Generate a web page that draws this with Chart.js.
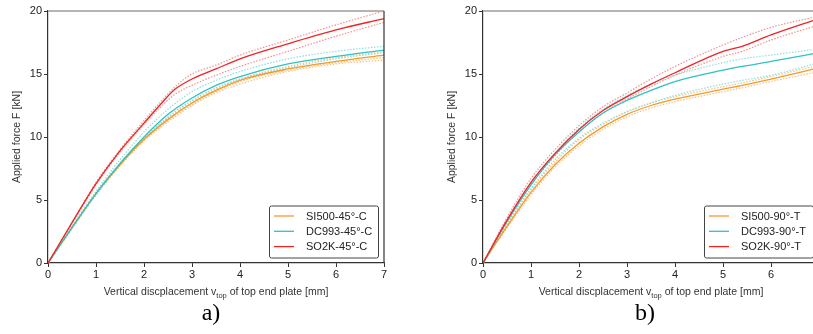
<!DOCTYPE html>
<html lang="en">
<head>
<meta charset="UTF-8">
<title>Force-displacement curves</title>
<script src="https://cdn.jsdelivr.net/npm/chart.js"></script>
<style>
    body {
        margin: 0;
        background: #fff;
        width: 813px;
        height: 334px;
        overflow: hidden;
        position: relative;
    }
    .panel {
        position: absolute;
        top: 0;
        width: 400px;
        height: 300px;
    }
    .caption {
        position: absolute;
        top: 299px;
        font-family: "Liberation Serif", "Times New Roman", serif;
        font-size: 24px;
        color: #000;
        width: 60px;
        text-align: center;
    }
</style>
</head>
<body>

<div class="panel" style="left:0"><canvas id="chartA" width="400" height="300"></canvas></div>
<div class="panel" style="left:435px"><canvas id="chartB" width="400" height="300"></canvas></div>
<div class="caption" style="left:181px">a)</div>
<div class="caption" style="left:615px">b)</div>

<script>
// ---- data: a) 45° compression ----
const dispA    = [0, 0.5, 1, 1.5, 2, 2.5, 3, 3.5, 4, 5, 6, 7];
const dispARed = [0, 0.5, 1, 1.5, 2, 2.3, 2.65, 3, 3.5, 4, 5, 6, 7];

const si500A   = [0, 2.8, 5.5, 7.8, 9.8, 11.4, 12.7, 13.7, 14.5, 15.4, 16.0, 16.5];
const si500A1  = [0, 2.7, 5.4, 7.7, 9.7, 11.2, 12.5, 13.5, 14.2, 15.2, 15.8, 16.1];
const si500A2  = [0, 2.8, 5.6, 7.9, 9.9, 11.5, 12.8, 13.8, 14.6, 15.6, 16.3, 16.75];
const si500A3  = [0, 2.8, 5.5, 7.8, 9.8, 11.3, 12.6, 13.6, 14.4, 15.3, 15.9, 16.3];
const dc993A   = [0, 2.8, 5.5, 7.9, 10.0, 11.8, 13.1, 14.1, 14.8, 15.8, 16.4, 16.9];
const dc993A1  = [0, 2.9, 5.7, 8.2, 10.4, 12.2, 13.6, 14.5, 15.2, 16.2, 16.8, 17.2];
const dc993A2  = [0, 2.8, 5.4, 7.8, 9.9, 11.6, 12.9, 13.9, 14.6, 15.5, 16.2, 16.7];
const so2kA    = [0, 3.2, 6.3, 8.9, 11.1, 12.4, 13.8, 14.6, 15.4, 16.2, 17.4, 18.5, 19.4];
const so2kA1   = [0, 3.2, 6.4, 9.0, 11.3, 12.6, 14.0, 15.0, 15.7, 16.5, 17.7, 18.9, 20.0];
const so2kA2   = [0, 3.1, 6.2, 8.8, 11.0, 12.2, 13.4, 14.1, 14.9, 15.6, 16.8, 18.0, 19.1];

// ---- data: b) 90° tension ----
const dispB    = [0, 0.5, 1, 1.5, 2, 2.5, 3, 3.5, 4, 5, 5.4, 6, 7];

const si500B   = [0, 2.9, 5.6, 7.8, 9.5, 10.8, 11.8, 12.5, 13.0, 13.8, 14.1, 14.6, 15.5];
const si500B1  = [0, 3.0, 5.8, 8.0, 9.8, 11.0, 12.0, 12.7, 13.2, 14.0, 14.3, 14.8, 15.7];
const si500B2  = [0, 2.8, 5.4, 7.6, 9.3, 10.6, 11.6, 12.3, 12.8, 13.6, 13.9, 14.4, 15.2];
const dc993B   = [0, 3.3, 6.2, 8.6, 10.4, 11.9, 12.9, 13.7, 14.4, 15.3, 15.6, 16.0, 16.7];
const dc993B1  = [0, 3.3, 6.3, 8.7, 10.7, 12.2, 13.3, 14.2, 14.9, 15.9, 16.2, 16.5, 17.0];
const dc993B2  = [0, 3.1, 5.9, 8.2, 9.9, 11.1, 12.0, 12.7, 13.3, 14.2, 14.5, 14.9, 15.9];
const so2kB    = [0, 3.4, 6.4, 8.7, 10.6, 12.1, 13.2, 14.2, 15.1, 16.8, 17.2, 18.1, 19.4];
const so2kB1   = [0, 3.6, 6.7, 9.0, 10.9, 12.4, 13.5, 14.6, 15.6, 17.3, 17.9, 18.7, 19.6];
const so2kB2   = [0, 3.2, 6.2, 8.5, 10.4, 11.9, 13.0, 14.0, 14.9, 16.4, 16.8, 17.7, 18.9];

const labelsA = ['SI500-45°-C', 'DC993-45°-C', 'SO2K-45°-C'];
const labelsB = ['SI500-90°-T', 'DC993-90°-T', 'SO2K-90°-T'];

const xTicks = [0, 1, 2, 3, 4, 5, 6, 7];
const yTicks = [0, 5, 10, 15, 20];

const mainColors = ['#f39a2c', '#2fc2c2', '#ee2424'];
const dotColors  = ['#f8c17e', '#8fdede', '#f79090'];

function pts(xs, ys) {
    return xs.map((x, i) => ({x: x, y: ys[i]}));
}

function mainLine(label, xs, ys, color) {
    return {
        label: label, data: pts(xs, ys), borderColor: color, backgroundColor: color,
        borderWidth: 1.3, pointRadius: 0, cubicInterpolationMode: 'monotone'
    };
}

function dotLine(xs, ys, color) {
    return {
        label: '', data: pts(xs, ys), borderColor: color, backgroundColor: color,
        borderWidth: 1.2, borderDash: [1.5, 1.5], pointRadius: 0, cubicInterpolationMode: 'monotone'
    };
}

// legend box in lower right corner of the plot
const boxLegend = {
    id: 'boxLegend',
    afterDraw(chart, args, opts) {
        const ctx = chart.ctx;
        const area = chart.chartArea;
        const w = 109, h = 52;
        const x0 = area.right - 6 - w;
        const y0 = area.bottom - 5.5 - h;
        ctx.save();
        ctx.fillStyle = '#fff';
        ctx.strokeStyle = '#444';
        ctx.lineWidth = 1;
        ctx.beginPath();
        ctx.roundRect(x0 + 0.5, y0 + 0.5, w, h, 2);
        ctx.fill();
        ctx.stroke();
        ctx.font = '11px "Liberation Sans", Arial, sans-serif';
        ctx.textBaseline = 'middle';
        opts.labels.forEach((txt, i) => {
            const y = y0 + 10.5 + i * 15.3;
            ctx.strokeStyle = mainColors[i];
            ctx.lineWidth = 1.3;
            ctx.beginPath();
            ctx.moveTo(x0 + 5, y);
            ctx.lineTo(x0 + 25, y);
            ctx.stroke();
            ctx.fillStyle = '#222';
            ctx.fillText(txt, x0 + 37, y + 0.5);
        });
        ctx.restore();
    }
};

// frame on top/right and x title with subscript
const frameAndTitle = {
    id: 'frameAndTitle',
    afterDraw(chart) {
        const ctx = chart.ctx;
        const a = chart.chartArea;
        ctx.save();
        ctx.strokeStyle = '#b4b4b4';
        ctx.lineWidth = 2;
        ctx.beginPath();
        ctx.moveTo(a.left, a.top);
        ctx.lineTo(a.right, a.top);
        ctx.stroke();
        ctx.strokeStyle = '#333';
        ctx.lineWidth = 1.2;
        ctx.beginPath();
        ctx.moveTo(a.right, a.top);
        ctx.lineTo(a.right, a.bottom);
        ctx.stroke();

        const p1 = 'Vertical discplacement v';
        const sub = 'top';
        const p2 = ' of top end plate [mm]';
        const big = '10.5px "Liberation Sans", Arial, sans-serif';
        const small = '7.5px "Liberation Sans", Arial, sans-serif';
        ctx.font = big;
        const w1 = ctx.measureText(p1).width, w3 = ctx.measureText(p2).width;
        ctx.font = small;
        const w2 = ctx.measureText(sub).width;
        const cx = (a.left + a.right) / 2;
        let x = cx - (w1 + w2 + w3) / 2;
        const y = 295;
        ctx.fillStyle = '#333';
        ctx.textBaseline = 'alphabetic';
        ctx.font = big;
        ctx.fillText(p1, x, y);
        x += w1;
        ctx.font = small;
        ctx.fillText(sub, x, y + 2.5);
        x += w2;
        ctx.font = big;
        ctx.fillText(p2, x, y);
        ctx.restore();
    }
};

function makeChart(id, datasets, legendLabels) {
    return new Chart(document.getElementById(id), {
        type: 'line',
        data: {datasets: datasets},
        options: {
            responsive: false,
            animation: false,
            devicePixelRatio: 1,
            layout: {padding: {left: 0, top: 11, right: 16, bottom: 0}},
            plugins: {
                legend: {display: false},
                tooltip: {enabled: false},
                boxLegend: {labels: legendLabels}
            },
            scales: {
                x: {
                    type: 'linear', min: 0, max: 7,
                    afterFit: s => { s.height = 37; },
                    afterBuildTicks: s => { s.ticks = xTicks.map(v => ({value: v})); },
                    grid: {display: true, drawOnChartArea: false, drawTicks: true, tickLength: 4, color: '#333'},
                    border: {display: true, color: '#333', width: 1.2},
                    ticks: {color: '#222', font: {family: '"Liberation Sans", Arial, sans-serif', size: 11}, padding: 1, maxRotation: 0}
                },
                y: {
                    type: 'linear', min: 0, max: 20,
                    afterFit: s => { s.width = 48; },
                    afterBuildTicks: s => { s.ticks = yTicks.map(v => ({value: v})); },
                    grid: {display: true, drawOnChartArea: false, drawTicks: true, tickLength: 4, color: '#333'},
                    border: {display: true, color: '#333', width: 1.2},
                    ticks: {color: '#222', font: {family: '"Liberation Sans", Arial, sans-serif', size: 11}, padding: 2},
                    title: {
                        display: true, text: 'Applied force F [kN]', color: '#333',
                        font: {family: '"Liberation Sans", Arial, sans-serif', size: 10.5},
                        padding: {top: 11, bottom: 0}
                    }
                }
            }
        },
        plugins: [boxLegend, frameAndTitle]
    });
}

makeChart('chartA', [
    mainLine(labelsA[2], dispARed, so2kA, mainColors[2]),
    mainLine(labelsA[1], dispA, dc993A, mainColors[1]),
    mainLine(labelsA[0], dispA, si500A, mainColors[0]),
    dotLine(dispARed, so2kA1, dotColors[2]),
    dotLine(dispARed, so2kA2, dotColors[2]),
    dotLine(dispA, dc993A1, dotColors[1]),
    dotLine(dispA, dc993A2, dotColors[1]),
    dotLine(dispA, si500A1, dotColors[0]),
    dotLine(dispA, si500A2, dotColors[0]),
    dotLine(dispA, si500A3, dotColors[0])
], labelsA);

makeChart('chartB', [
    mainLine(labelsB[2], dispB, so2kB, mainColors[2]),
    mainLine(labelsB[1], dispB, dc993B, mainColors[1]),
    mainLine(labelsB[0], dispB, si500B, mainColors[0]),
    dotLine(dispB, so2kB1, dotColors[2]),
    dotLine(dispB, so2kB2, dotColors[2]),
    dotLine(dispB, dc993B1, dotColors[1]),
    dotLine(dispB, dc993B2, dotColors[1]),
    dotLine(dispB, si500B1, dotColors[0]),
    dotLine(dispB, si500B2, dotColors[0])
], labelsB);
</script>
</body>
</html>
